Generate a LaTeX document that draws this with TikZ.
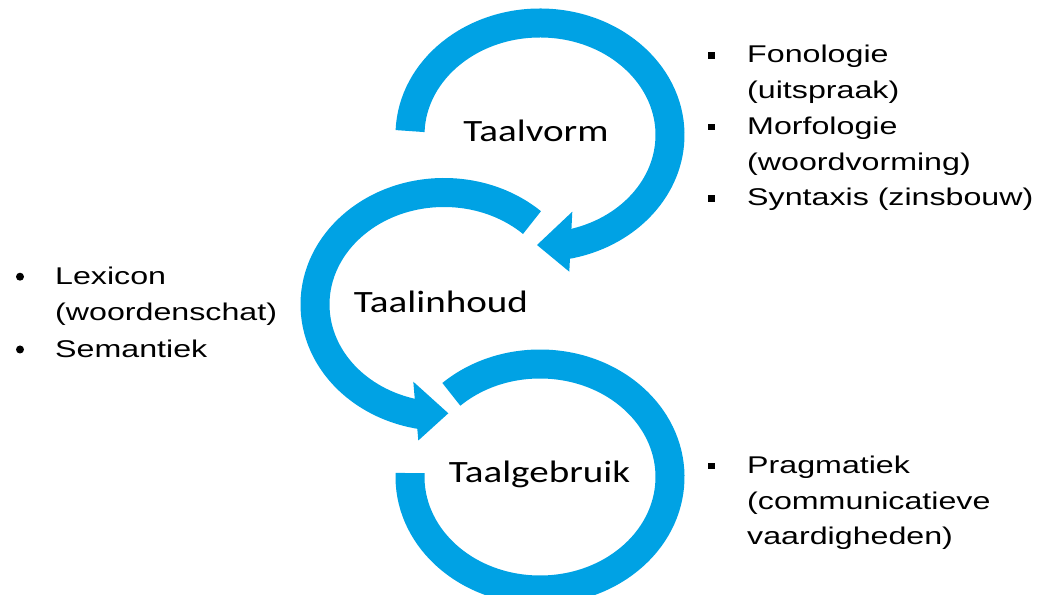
\documentclass[tikz,border=0pt]{standalone}
\usepackage{fontspec}
\newfontfamily\labelfont[FakeStretch=1.26]{Carlito}
\newfontfamily\listfont[FakeStretch=1.33]{Liberation Sans}
\definecolor{ringblue}{RGB}{0,162,228}
\begin{document}
\begin{tikzpicture}[x=1pt,y=1pt,
  ring/.style={draw=ringblue,line width=29pt},
  head/.style={fill=ringblue,draw=none},
  lbl/.style={font=\labelfont\fontsize{31}{36}\selectfont,inner sep=0pt,anchor=base},
  item/.style={font=\listfont\fontsize{24.2}{35.7}\selectfont,inner sep=0pt,anchor=base west,align=left},
  sqbullet/.style={fill=black,minimum size=6.5pt,inner sep=0pt},
  dotbullet/.style={fill=black,circle,minimum size=8pt,inner sep=0pt}]
\useasboundingbox (0,0) rectangle (1040,594);
\clip (0,0) rectangle (1040,594);

% ring centres
\coordinate (c1) at (540,459);
\coordinate (c2) at (444,289.5);
\coordinate (c3) at (540,117);

% top ring (Taalvorm)
\draw[ring] ([shift={(178:130pt and 112pt)}]c1) arc[start angle=178,end angle=-79,x radius=130pt,y radius=112pt];
\coordinate (h1a) at (572.3,382.3);
\coordinate (h1t) at (537,349);
\coordinate (h1b) at (569.3,322.3);
\fill[head] (h1a) -- (h1t) -- (h1b) -- cycle;

% middle ring (Taalinhoud)
\draw[ring] ([shift={(47:129pt and 112pt)}]c2) arc[start angle=47,end angle=260,x radius=129pt,y radius=112pt];
\coordinate (h2a) at (413.3,212.3);
\coordinate (h2t) at (448.3,180.7);
\coordinate (h2b) at (418.3,153.5);
\fill[head] (h2a) -- (h2t) -- (h2b) -- cycle;

% bottom ring (Taalgebruik)
\draw[ring] ([shift={(133:130pt and 113pt)}]c3) arc[start angle=133,end angle=-182,x radius=130pt,y radius=113pt];

% labels
\node[lbl] (vorm) at (536,452) {Taalvorm};
\node[lbl] (inhoud) at (441,281) {Taalinhoud};
\node[lbl] (gebruik) at (539.5,111) {Taalgebruik};

% right top list (node base = baseline of last line)
\node[sqbullet] (b1) at (711.5,538.5) {};
\node[item] (fon) at (747,495.3) {Fonologie\\(uitspraak)};
\node[sqbullet] (b2) at (711.5,467.1) {};
\node[item] (morf) at (747,423.9) {Morfologie\\(woordvorming)};
\node[sqbullet] (b3) at (711.5,395.7) {};
\node[item] (syn) at (747,388.2) {Syntaxis (zinsbouw)};

% left list
\node[dotbullet] (l1) at (20,317.3) {};
\node[item] (lex) at (55,273.3) {Lexicon\\(woordenschat)};
\node[dotbullet] (l2) at (20,244.5) {};
\node[item] (sem) at (55,236.5) {Semantiek};

% bottom right list
\node[sqbullet] (b4) at (711.5,128.2) {};
\node[item] (prag) at (747,49.3) {Pragmatiek\\(communicatieve\\vaardigheden)};
\end{tikzpicture}
\end{document}
